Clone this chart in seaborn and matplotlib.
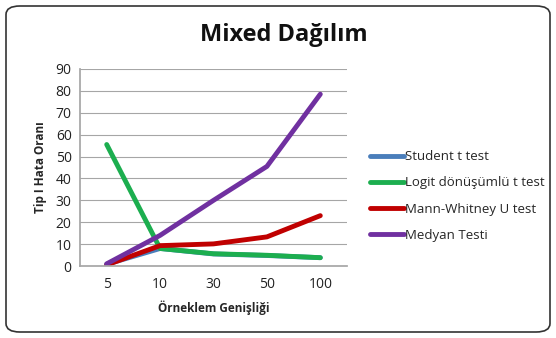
import matplotlib
matplotlib.use("Agg")
import matplotlib.pyplot as plt
from matplotlib.patches import FancyBboxPatch
from matplotlib.lines import Line2D
import seaborn as sns
import pandas as pd

sample_sizes = ["5", "10", "30", "50", "100"]
student_t = [0.8, 8.0, 5.5, 4.8, 3.8]
logit_t = [55.5, 8.0, 5.6, 4.9, 3.8]
mann_whitney = [0.5, 9.3, 10.1, 13.3, 23.0]
medyan = [1.0, 14.0, 30.0, 45.5, 78.5]

series_names = ["Student t test", "Logit dönüşümlü t test", "Mann-Whitney U test", "Medyan Testi"]
series_values = [student_t, logit_t, mann_whitney, medyan]
colors = ["#4a7ebb", "#1cae4f", "#c00000", "#7030a0"]

rows = []
for name, vals in zip(series_names, series_values):
    for i, (cat, v) in enumerate(zip(sample_sizes, vals)):
        rows.append({"n": cat, "pos": i, "rate": v, "test": name})
df = pd.DataFrame(rows)

sns.set_theme(style="white")
plt.rcParams["font.family"] = ["Open Sans", "DejaVu Sans"]

fig = plt.figure(figsize=(5.56, 3.38), dpi=100)
ax = fig.add_axes([80 / 556, (338 - 266) / 338, (347 - 80) / 556, (266 - 69) / 338])

sns.lineplot(data=df, x="pos", y="rate", hue="test", hue_order=series_names,
             palette=colors, linewidth=3.5, ax=ax, legend=False, sort=False)

ax.set_xlim(-0.5, 4.5)
ax.set_ylim(0, 90)
ax.set_yticks(range(0, 91, 10))
ax.set_xticks(range(len(sample_sizes)))
ax.set_xticklabels(sample_sizes)
ax.tick_params(axis="both", labelsize=10, colors="#222222", length=0, pad=8)
ax.tick_params(axis="y", pad=6)
ax.grid(axis="y", color="#a6a6a6", linewidth=0.8)
for side in ["top", "right"]:
    ax.spines[side].set_visible(False)
ax.spines["left"].set_color("#a6a6a6")
ax.spines["bottom"].set_color("#a6a6a6")
ax.set_axisbelow(True)

ax.set_xlabel("Örneklem Genişliği", fontsize=8.5, fontweight="bold", labelpad=6)
ax.set_ylabel("Tip I Hata Oranı", fontsize=8.5, fontweight="bold", labelpad=6)

fig.text(284 / 556, 1 - 35 / 338, "Mixed Dağılım", ha="center", va="center",
         fontsize=17, fontweight="bold", color="#111111")

# legend
handles = [Line2D([0], [0], color=c, linewidth=3.5) for c in colors]
fig.legend(handles, series_names, loc="center left", bbox_to_anchor=(358 / 556, 1 - 196 / 338),
           frameon=False, fontsize=9.5, handlelength=2.6, handletextpad=0.05, labelspacing=1.0)

border = FancyBboxPatch((6 / 556, 6 / 338), 544 / 556, 326 / 338,
                        boxstyle="round,pad=0,rounding_size=0.025", transform=fig.transFigure,
                        fill=False, edgecolor="#333333", linewidth=1.2)
fig.patches.append(border)

fig.savefig("out.png", dpi=100)
